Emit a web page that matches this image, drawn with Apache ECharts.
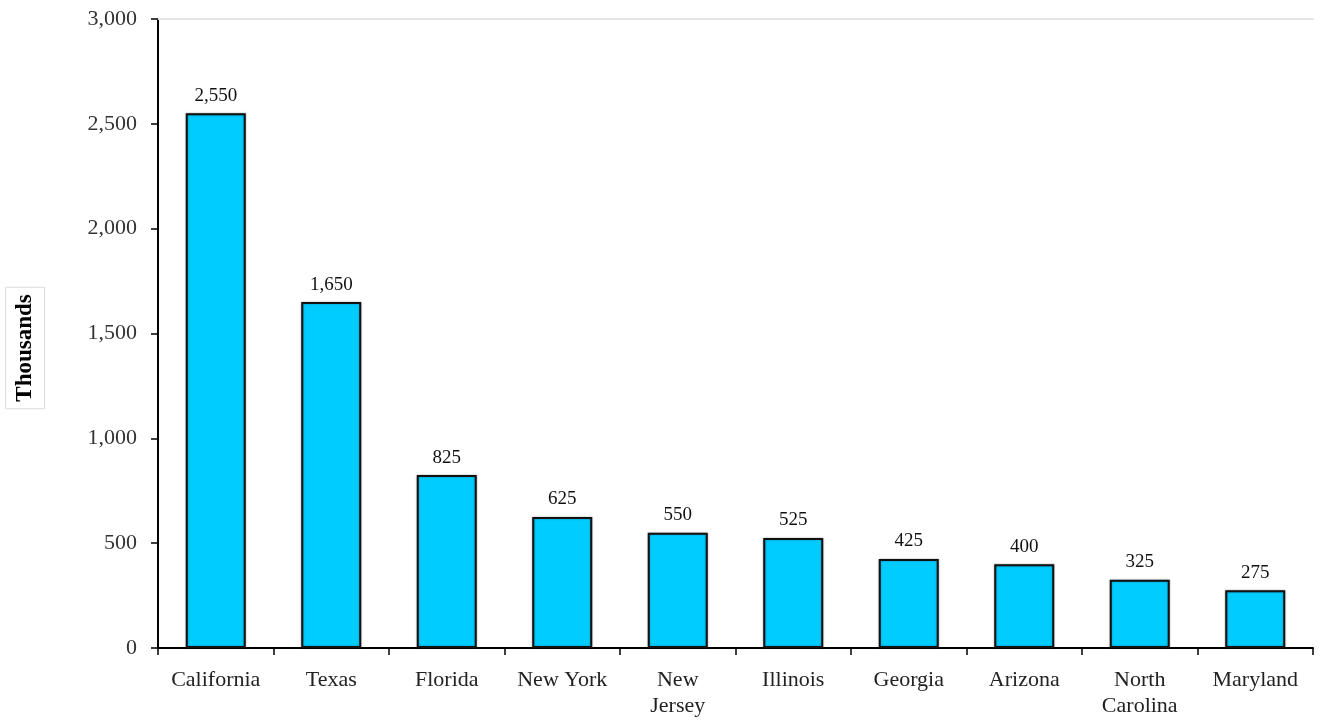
<!DOCTYPE html>
<html>
<head>
<meta charset="utf-8">
<script src="https://cdn.jsdelivr.net/npm/echarts@6/dist/echarts.min.js"></script>
<style>
  html, body { margin: 0; padding: 0; background: #fff; }
  #chart { width: 1320px; height: 722px; }
</style>
</head>
<body>
<div id="chart"></div>
<script>
const states = ['California', 'Texas', 'Florida', 'New York', 'New\nJersey', 'Illinois', 'Georgia', 'Arizona', 'North\nCarolina', 'Maryland'];
const thousands = [2550, 1650, 825, 625, 550, 525, 425, 400, 325, 275];
const yTicks = [0, 500, 1000, 1500, 2000, 2500, 3000];

const serif = '"Liberation Serif", "Times New Roman", serif';
const chart = echarts.init(document.getElementById('chart'));

const fmt = v => v.toLocaleString('en-US');

chart.setOption({
  animation: false,
  grid: { left: 158, right: 7, top: 19, bottom: 74 },
  // y axis title sits a bit below the plot middle in the original, so draw it as a graphic
  graphic: [{
    type: 'text',
    x: 25,
    y: 348,
    rotation: Math.PI / 2,
    style: {
      text: 'Thousands',
      font: 'bold 23px ' + serif,
      fill: '#000',
      align: 'center',
      verticalAlign: 'middle',
      borderColor: '#ddd',
      borderWidth: 1,
      padding: [8, 7, 8, 7]
    }
  }],
  xAxis: [
    {
      type: 'category',
      data: states,
      axisLine: { lineStyle: { color: '#000', width: 2 } },
      axisTick: { show: true, length: 7, lineStyle: { color: '#000', width: 1.5 } },
      axisLabel: {
        interval: 0,
        margin: 19,
        fontFamily: serif,
        fontSize: 22,
        color: '#222',
        lineHeight: 26
      }
    },
    {
      type: 'category',
      position: 'top',
      data: states,
      axisLine: { lineStyle: { color: '#e4e4e4', width: 2 } },
      axisTick: { show: false },
      axisLabel: { show: false }
    }
  ],
  yAxis: {
    type: 'value',
    min: yTicks[0],
    max: yTicks[yTicks.length - 1],
    interval: 500,
    axisLine: { show: true, lineStyle: { color: '#000', width: 2 } },
    axisTick: { show: true, length: 7, lineStyle: { color: '#000', width: 1.5 } },
    splitLine: { show: false },
    axisLabel: {
      margin: 21,
      fontFamily: serif,
      fontSize: 22,
      color: '#333',
      formatter: v => fmt(v)
    }
  },
  series: [{
    type: 'bar',
    data: thousands,
    barWidth: 60,
    itemStyle: {
      color: '#00CCFF',
      borderColor: '#111',
      borderWidth: 2,
      shadowColor: 'rgba(0,0,0,0.35)',
      shadowBlur: 2
    },
    label: {
      show: true,
      position: 'top',
      distance: 8,
      fontFamily: serif,
      fontSize: 19,
      color: '#111',
      formatter: p => fmt(p.value)
    }
  }]
});
</script>
</body>
</html>
